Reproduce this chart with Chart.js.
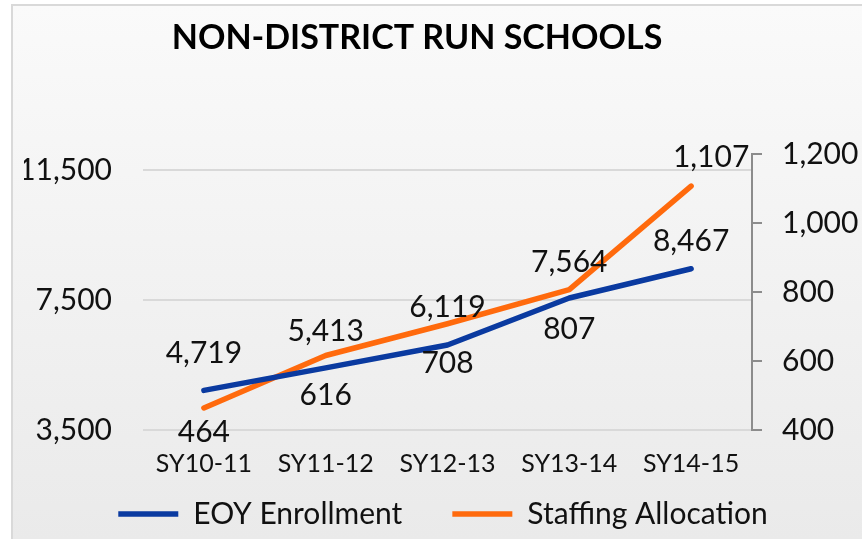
<!DOCTYPE html>
<html>
<head>
<meta charset="utf-8">
<script src="https://cdn.jsdelivr.net/npm/chart.js@4"></script>
<style>
  body { margin: 0; background: #fff; overflow: hidden; }
  #frame {
    position: absolute; left: 11px; top: 4px; width: 900px; height: 600px;
    border-left: 2px solid #d9d9d9; border-top: 2px solid #d9d9d9;
    background: linear-gradient(#fafafa, #e8e8e8);
  }
  #wrap { position: absolute; left: 0; top: 0; width: 862px; height: 539px; }
</style>
</head>
<body>
<div id="frame"></div>
<div id="wrap"><canvas id="grafico" width="862" height="539"></canvas></div>
<script>
const anos = ['SY10-11', 'SY11-12', 'SY12-13', 'SY13-14', 'SY14-15'];
const matriculas = [4719, 5413, 6119, 7564, 8467];
const alocacao = [464, 616, 708, 807, 1107];
const ticksEsq = [3500, 7500, 11500];
const ticksDir = [400, 600, 800, 1000, 1200];

const AZUL = '#0a3aa0';
const LARANJA = '#ff6a0d';
const FONTE = 'Lato, "DejaVu Sans", sans-serif';

const fmt = v => Number(v).toLocaleString('en-US');

/* ================= RÓTULOS / TÍTULO ================= */
const rotulos = {
  id: 'rotulos',
  afterDatasetsDraw(chart, args, opts) {
    const ctx = chart.ctx;
    ctx.save();
    ctx.font = '30px ' + FONTE;
    ctx.fillStyle = '#111';
    ctx.textAlign = 'center';
    ctx.textBaseline = 'middle';
    chart.data.datasets.forEach((ds, i) => {
      const meta = chart.getDatasetMeta(i);
      const desl = opts.deslocamentos[i];
      meta.data.forEach((pt, j) => {
        ctx.fillText(fmt(ds.data[j]), pt.x + desl[j][0], pt.y + desl[j][1]);
      });
    });
    ctx.restore();
  },
  afterDraw(chart, args, opts) {
    const ctx = chart.ctx;
    ctx.save();
    ctx.font = 'bold 34px ' + FONTE;
    ctx.fillStyle = '#000';
    ctx.textAlign = 'center';
    ctx.textBaseline = 'middle';
    ctx.fillText(opts.titulo, 417, 38);
    ctx.restore();
  }
};

const ctx = document.getElementById('grafico');

new Chart(ctx, {
  type: 'line',
  data: {
    labels: anos,
    datasets: [{
      label: 'EOY Enrollment',
      data: matriculas,
      yAxisID: 'y',
      borderColor: AZUL,
      backgroundColor: AZUL,
      borderWidth: 5.5,
      borderCapStyle: 'round',
      borderJoinStyle: 'round',
      pointRadius: 0,
      tension: 0
    }, {
      label: 'Staffing Allocation',
      data: alocacao,
      yAxisID: 'y1',
      borderColor: LARANJA,
      backgroundColor: LARANJA,
      borderWidth: 5.5,
      borderCapStyle: 'round',
      borderJoinStyle: 'round',
      pointRadius: 0,
      tension: 0
    }]
  },
  plugins: [rotulos],
  options: {
    responsive: false,
    animation: false,
    layout: { padding: { top: 154, left: 24, right: 0, bottom: 0 } },
    scales: {
      x: {
        offset: true,
        grid: { display: false },
        border: { display: false },
        // mirror evita o recorte dos rótulos pela altura reduzida do eixo
        ticks: { font: { family: FONTE, size: 25 }, color: '#111', mirror: true, padding: -49, maxRotation: 0 },
        afterFit: s => { s.height = 539 - 430 - s.chart.legend.height; }
      },
      y: {
        position: 'left',
        min: 3500,
        max: 12000,
        afterBuildTicks: s => { s.ticks = ticksEsq.map(v => ({ value: v })); },
        afterFit: s => { s.width = 119; },
        ticks: { font: { family: FONTE, size: 30 }, color: '#111', padding: 31, callback: v => fmt(v) },
        grid: { color: '#d9d9d9', lineWidth: 2, drawTicks: false },
        border: { display: false }
      },
      y1: {
        position: 'right',
        min: 400,
        max: 1200,
        afterBuildTicks: s => { s.ticks = ticksDir.map(v => ({ value: v })); },
        afterFit: s => { s.width = 110; },
        ticks: { font: { family: FONTE, size: 30 }, color: '#111', padding: 20, callback: v => fmt(v) },
        grid: { drawOnChartArea: false, drawTicks: true, tickLength: 10, color: '#8c8c8c', lineWidth: 2 },
        border: { display: true, color: '#8c8c8c', width: 2 }
      }
    },
    plugins: {
      title: { display: false },
      tooltip: { enabled: false },
      legend: {
        position: 'bottom',
        labels: {
          usePointStyle: true,
          pointStyle: 'line',
          pointStyleWidth: 60,
          font: { family: FONTE, size: 30 },
          color: '#111',
          padding: 50
        }
      },
      rotulos: {
        titulo: 'NON-DISTRICT RUN SCHOOLS',
        deslocamentos: [
          [[0, -37], [0, -37], [0, -38], [0, -36], [0, -27]],
          [[0, 24], [0, 40], [0, 40], [0, 40], [20, -29]]
        ]
      }
    }
  }
});
</script>
</body>
</html>
